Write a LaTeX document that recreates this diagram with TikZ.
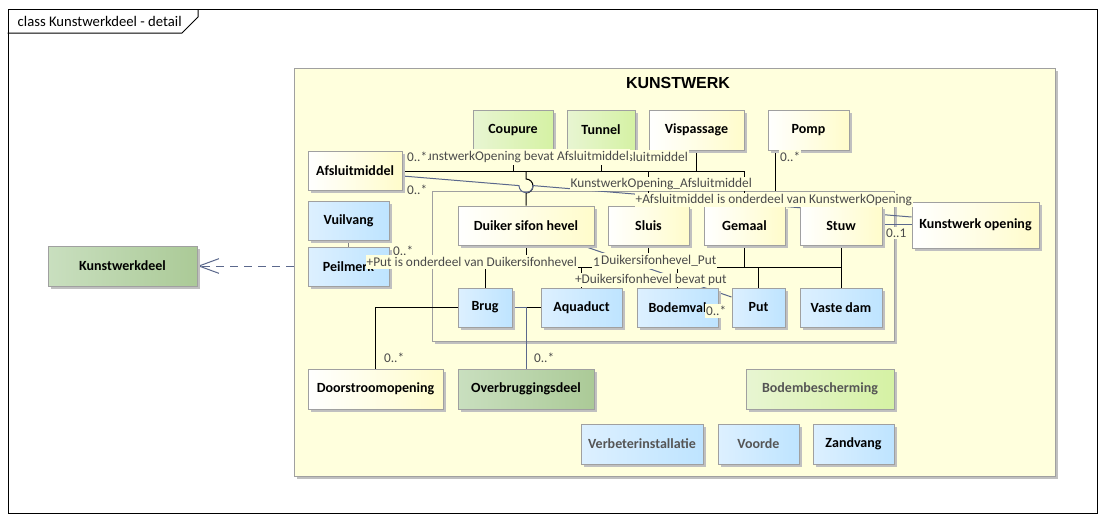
\documentclass[tikz,border=0pt]{standalone}
\usepackage{fontspec}
\setmainfont{Carlito}
\newfontfamily\arialf{Liberation Sans}
\usetikzlibrary{fit,shadows,arrows.meta,calc}
\definecolor{pkgfill}{HTML}{FFFFDD}
\definecolor{bordergray}{HTML}{A0A0A0}
\definecolor{yelR}{HTML}{FFFCCB}
\definecolor{grnL}{HTML}{E8F5D2}
\definecolor{grnR}{HTML}{D5F2A4}
\definecolor{bluL}{HTML}{DDF0FF}
\definecolor{bluR}{HTML}{BEE4FF}
\definecolor{dgrL}{HTML}{C9DFBF}
\definecolor{dgrR}{HTML}{ABCA97}
\definecolor{textgray}{HTML}{555555}
\definecolor{labtext}{HTML}{4A4A4A}
\definecolor{slate}{HTML}{5B688C}
\definecolor{shadowgray}{HTML}{C0C0C0}
\newcommand\nodefont{\fontsize{10.5}{12}\selectfont\bfseries}
\newcommand\labfont{\fontsize{10}{12}\selectfont}
\newcommand\ubox[7]{\node[#2, minimum width={(#5-#3)*0.75pt}, minimum height={(#6-#4)*0.75pt}] (#1) at ({(#3+#5)/2},{(#4+#6)/2}) {#7};}
\pgfdeclarelayer{pkglayer}
\pgfdeclarelayer{linelayer}
\pgfdeclarelayer{lablayer}
\pgfsetlayers{pkglayer,linelayer,main,lablayer}
\tikzset{
  umlbase/.style={draw=bordergray, line width=0.75pt, inner sep=0pt, font=\nodefont,
    drop shadow={shadow xshift=2.25pt, shadow yshift=-2.25pt, fill=shadowgray, opacity=1}},
  yel/.style={umlbase, left color=white, right color=yelR},
  grn/.style={umlbase, left color=grnL, right color=grnR},
  blu/.style={umlbase, left color=bluL, right color=bluR},
  dgrn/.style={umlbase, left color=dgrL, right color=dgrR},
  dim/.style={text=textgray},
  pkgst/.style={draw=bordergray, line width=0.75pt, fill=pkgfill, inner sep=0pt,
    drop shadow={shadow xshift=2.25pt, shadow yshift=-2.25pt, fill=shadowgray, opacity=1}},
  tree/.style={draw=black, line width=0.75pt},
  assoc/.style={draw=slate, line width=0.75pt},
  lab/.style={font=\labfont, text=labtext, fill=pkgfill, inner xsep=0.6pt, inner ysep=1.5pt},
  thinlab/.style={lab, inner ysep=0.8pt},
  dep/.style={draw=slate, line width=0.75pt, dash pattern=on 6pt off 4.5pt,
    -{Straight Barb[length=15pt,width=11pt,line width=0.75pt]}},
}
\begin{document}
\begin{tikzpicture}[x=0.75pt,y=-0.75pt]
\useasboundingbox (0,0) rectangle (1107,521);

\begin{pgfonlayer}{pkglayer}
\fill[white] (0,0) rectangle (1107,521);
\node[draw=black, line width=0.75pt, inner sep=0pt, fit={(8,9) (1097,513)}] (frame) {};
\draw[line width=0.75pt] (frame.west |- 0,33) coordinate (tabb) -- (182,33) -- (198,17) -- (198,9);
\node[anchor=west, font=\fontsize{11}{13}\selectfont] (tabtitle) at (13,21) {class Kunstwerkdeel - detail};
\node[pkgst, fit={(294,68) (1055,476)}] (kunstwerk) {};
\node[font=\arialf\bfseries\fontsize{12}{14}\selectfont] (kwtitle) at (678,83) {KUNSTWERK};
\node[pkgst, fit={(432,191) (894,341)}] (group) {};
\end{pgfonlayer}

% nodes
\ubox{coupure}{grn}{473}{110}{553}{150}{Coupure}
\ubox{tunnel}{grn}{567}{110}{635}{150}{Tunnel}
\ubox{vispassage}{yel}{649}{110}{744}{150}{Vispassage}
\ubox{pomp}{yel}{768}{110}{849}{150}{Pomp}
\ubox{afsluit}{yel}{308}{151}{402}{190}{Afsluitmiddel}
\ubox{kwopening}{yel}{912}{202}{1039}{248}{Kunstwerk opening}
\ubox{vuilvang}{blu}{308}{201}{389}{240}{Vuilvang}
\ubox{peilmerk}{blu}{308}{247}{389}{286}{Peilmerk}
\ubox{duiker}{yel}{458}{206}{594}{245}{Duiker sifon hevel}
\ubox{sluis}{yel}{608}{206}{689}{245}{Sluis}
\ubox{gemaal}{yel}{704}{206}{785}{245}{Gemaal}
\ubox{stuw}{yel}{800}{206}{882}{245}{Stuw}
\ubox{brug}{blu}{458}{288}{512}{327}{Brug}
\ubox{aquaduct}{blu}{541}{288}{622}{327}{Aquaduct}
\ubox{bodemval}{blu}{637}{288}{718}{327}{Bodemval}
\ubox{put}{blu}{732}{288}{785}{327}{Put}
\ubox{vastedam}{blu}{800}{288}{882}{327}{Vaste dam}
\ubox{doorstroom}{yel}{308}{369}{443}{409}{Doorstroomopening}
\ubox{overbrug}{dgrn}{458}{369}{594}{409}{Overbruggingsdeel}
\ubox{bodembesch}{grn,dim}{746}{369}{894}{409}{Bodembescherming}
\ubox{verbeter}{blu,dim}{581}{424}{703}{464}{Verbeterinstallatie}
\ubox{voorde}{blu,dim}{718}{424}{799}{464}{Voorde}
\ubox{zandvang}{blu}{813}{424}{894}{464}{Zandvang}
\ubox{kwd}{dgrn}{48}{246}{197}{286}{Kunstwerkdeel}

\begin{pgfonlayer}{linelayer}
% tree from Afsluitmiddel
\coordinate (hA) at (0,171);
\draw[tree] (afsluit.east |- hA) -- (gemaal.north |- hA);
\draw[tree] (coupure.south) -- (coupure.south |- hA);
\draw[tree] (tunnel.south) -- (tunnel.south |- hA);
\draw[tree] (vispassage.south) -- (vispassage.south |- hA);
\draw[tree] (sluis.north |- hA) -- (sluis.north);
\draw[tree] (gemaal.north |- hA) -- (gemaal.north);
\draw[tree] (duiker.north |- hA) -- (526,179) arc[start angle=-90, end angle=90, radius=7] -- (duiker.north);
% Pomp to group
\draw[tree] ($(pomp.south west)+(8,0)$) coordinate (pompx) -- (pompx |- group.north);
% tree at y=267
\coordinate (hB) at (0,267);
\draw[tree] (duiker.south) -- (duiker.south |- hB);
\draw[tree] (brug.north |- hB) -- (stuw.south |- hB);
\draw[tree] (brug.north |- hB) -- (brug.north);
\draw[tree] (aquaduct.north |- hB) -- (aquaduct.north);
\draw[tree] (bodemval.north |- hB) -- (bodemval.north);
\draw[tree] (put.north |- hB) -- (put.north);
\draw[tree] (sluis.south) -- (sluis.south |- hB);
\draw[tree] (gemaal.south) -- (gemaal.south |- hB);
\draw[tree] (stuw.south) -- (vastedam.north);
% Doorstroomopening
\draw[tree] (doorstroom.north) -- (doorstroom.north |- aquaduct.west) -- (aquaduct.west);
% Overbruggingsdeel
\draw[assoc] (overbrug.north) -- (overbrug.north |- brug.east) -- (brug.east);
% Vuilvang - Peilmerk
\draw[draw=gray, line width=0.75pt] (vuilvang.south) -- (peilmerk.north);
% Afsluitmiddel - Kunstwerk opening
\draw[assoc] ($(afsluit.east)+(0,5.5)$) -- (519,185.6) arc[start angle=180, end angle=0, radius=7] -- ($(kwopening.west)+(0,-8)$);
% Stuw - Kunstwerk opening
\draw[assoc] ($(stuw.east)+(0,-1.5)$) -- ($(kwopening.west)+(0,-1)$);
% Duiker - Put
\draw[assoc] ($(duiker.south east)+(-11,0.5)$) -- ($(put.west)+(0,-10.5)$);
% dependency
\draw[dep] (kunstwerk.west |- kwd.east) -- (kwd.east);
\end{pgfonlayer}

\begin{pgfonlayer}{lablayer}
\node[lab, anchor=east] (l1) at (689,157) {+Afsluitmiddel};
\node[lab, anchor=east] (l2) at (630,157) {KunstwerkOpening bevat Afsluitmiddel};
\node[lab, anchor=west] (m1) at (406,157) {0..*};
\node[lab, anchor=west] (m2) at (406,190) {0..*};
\node[lab, anchor=west] (m3) at (779,157) {0..*};
\node[thinlab, anchor=east] (l3) at (753,184) {KunstwerkOpening\_Afsluitmiddel};
\node[thinlab, anchor=east] (l4) at (913,200) {+Afsluitmiddel is onderdeel van KunstwerkOpening};
\node[lab, anchor=west] (m4) at (885,233) {0..1};
\node[lab, anchor=west] (m5) at (392,251) {0..*};
\node[lab, anchor=east] (l5) at (578,262) {+Put is onderdeel van Duikersifonhevel};
\node[lab, anchor=east] (m6) at (601,262) {1};
\node[lab, anchor=west] (l6) at (600,261) {Duikersifonhevel\_Put};
\node[thinlab, anchor=west] (l7) at (574,280) {+Duikersifonhevel bevat put};
\node[lab, anchor=west] (m7) at (705,311) {0..*};
\node[lab, anchor=west] (m8) at (383,358) {0..*};
\node[lab, anchor=west] (m9) at (533,358) {0..*};
\end{pgfonlayer}
\end{tikzpicture}
\end{document}
